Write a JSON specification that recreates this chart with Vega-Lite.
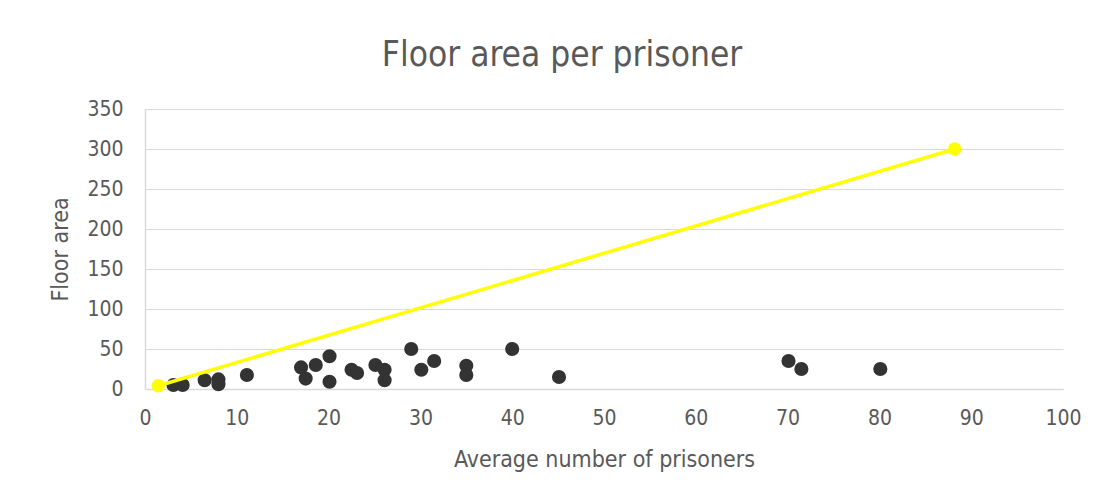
{
  "$schema": "https://vega.github.io/schema/vega-lite/v6.json",
  "autosize": {"type": "none"},
  "width": 918,
  "height": 280,
  "padding": {"left": 145, "top": 109, "right": 37, "bottom": 111},
  "background": "white",
  "title": {
    "text": "Floor area per prisoner",
    "fontSize": 35,
    "font": "DejaVu Sans Condensed, Roboto, sans-serif",
    "fontWeight": 300,
    "color": "#595959",
    "anchor": "middle",
    "dx": -42,
    "offset": 25
  },
  "datasets": {
    "prisons": [
      {"prisoners": 3.1, "area": 5},
      {"prisoners": 4.1, "area": 5},
      {"prisoners": 6.5, "area": 11},
      {"prisoners": 8, "area": 12},
      {"prisoners": 8, "area": 6},
      {"prisoners": 11.1, "area": 17.5},
      {"prisoners": 17, "area": 27},
      {"prisoners": 17.5, "area": 13},
      {"prisoners": 18.6, "area": 30},
      {"prisoners": 20.1, "area": 41},
      {"prisoners": 20.1, "area": 9},
      {"prisoners": 22.5, "area": 24},
      {"prisoners": 23.1, "area": 20},
      {"prisoners": 25.1, "area": 30},
      {"prisoners": 26.1, "area": 24},
      {"prisoners": 26.1, "area": 11},
      {"prisoners": 29, "area": 50},
      {"prisoners": 30.1, "area": 24},
      {"prisoners": 31.5, "area": 35},
      {"prisoners": 35, "area": 29},
      {"prisoners": 35, "area": 17.5},
      {"prisoners": 40, "area": 50},
      {"prisoners": 45.1, "area": 15},
      {"prisoners": 70.1, "area": 35},
      {"prisoners": 71.5, "area": 25},
      {"prisoners": 80.1, "area": 25}
    ],
    "reference": [
      {"prisoners": 1.45, "area": 4},
      {"prisoners": 88.2, "area": 300}
    ]
  },
  "config": {
    "font": "DejaVu Sans Condensed, Roboto, sans-serif",
    "view": {"stroke": null},
    "axis": {
      "labelFont": "DejaVu Sans Condensed, Roboto, sans-serif",
      "titleFont": "DejaVu Sans Condensed, Roboto, sans-serif",
      "labelColor": "#595959",
      "titleColor": "#595959",
      "labelFontSize": 21,
      "labelFontWeight": 300,
      "titleFontSize": 23,
      "titleFontWeight": 300,
      "ticks": false,
      "labelOverlap": false,
      "domainColor": "#d9d9d9",
      "domainWidth": 1.5,
      "gridColor": "#d9d9d9",
      "gridWidth": 1.2
    }
  },
  "encoding": {
    "x": {
      "field": "prisoners",
      "type": "quantitative",
      "scale": {"domain": [0, 100], "nice": false},
      "axis": {"title": "Average number of prisoners", "values": [0,10,20,30,40,50,60,70,80,90,100], "grid": false, "labelPadding": 18, "titlePadding": 20, "labelFlush": false}
    },
    "y": {
      "field": "area",
      "type": "quantitative",
      "scale": {"domain": [0, 350], "nice": false},
      "axis": {"title": "Floor area", "values": [0,50,100,150,200,250,300,350], "grid": true, "labelPadding": 22, "titlePadding": 14, "labelFlush": false}
    }
  },
  "layer": [
    {
      "data": {"name": "prisons"},
      "mark": {"type": "point", "filled": true, "size": 200, "color": "#333333", "opacity": 1}
    },
    {
      "data": {"name": "reference"},
      "mark": {"type": "line", "color": "#ffff00", "strokeWidth": 3.5, "point": {"filled": true, "size": 180, "color": "#ffff00", "opacity": 1}}
    }
  ]
}
